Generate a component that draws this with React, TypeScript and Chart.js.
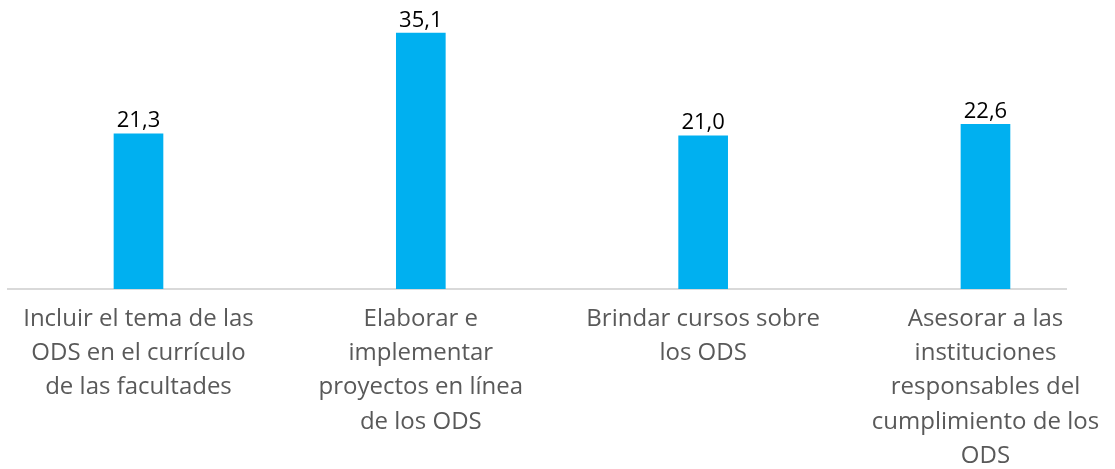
import React, { useEffect, useRef } from "react";
import { Chart, registerables } from "chart.js";

Chart.register(...registerables);

const categories: string[][] = [
  ["Incluir el tema de las", "ODS en el currículo", "de las facultades"],
  ["Elaborar e", "implementar", "proyectos en línea", "de los ODS"],
  ["Brindar cursos sobre", "los ODS"],
  ["Asesorar a las", "instituciones", "responsables del", "cumplimiento de los", "ODS"],
];
const values: number[] = [21.3, 35.1, 21.0, 22.6];

const FONT = "'Open Sans', Lato, sans-serif";

const valueLabels = {
  id: "valueLabels",
  afterDatasetsDraw(chart: any) {
    const ctx = chart.ctx;
    const meta = chart.getDatasetMeta(0);
    ctx.save();
    ctx.font = `22px ${FONT}`;
    ctx.fillStyle = "#000000";
    ctx.textAlign = "center";
    ctx.textBaseline = "alphabetic";
    meta.data.forEach((bar: any, i: number) => {
      const v = values[i];
      ctx.fillText(v.toFixed(1).replace(".", ","), bar.x, bar.y - 6.5);
    });
    ctx.restore();
  },
};

export default function App() {
  const ref = useRef<HTMLCanvasElement | null>(null);
  useEffect(() => {
    if (!ref.current) return;
    const chart = new Chart(ref.current, {
      type: "bar",
      data: {
        datasets: [
          {
            data: values.map((v, i) => ({ x: i, y: v })),
            backgroundColor: "#00B0F0",
            borderWidth: 0,
            barThickness: 49,
          },
        ],
      },
      options: {
        animation: false,
        responsive: true,
        maintainAspectRatio: false,
        layout: { padding: { left: 8, right: 49, top: 12, bottom: 0 } },
        plugins: {
          legend: { display: false },
          tooltip: { enabled: false },
        },
        scales: {
          x: {
            type: "linear",
            offset: false,
            min: -0.4622,
            max: 3.2852,
            grid: { display: false, drawTicks: false, tickLength: 0, offset: false },
            border: { display: true, color: "#D9D9D9", width: 2 },
            afterBuildTicks: (axis: any) => {
              axis.ticks = categories.map((_, i) => ({ value: i }));
            },
            afterFit: (axis: any) => {
              axis.height = 180;
              axis.paddingLeft = 0;
              axis.paddingRight = 0;
            },
            ticks: {
              autoSkip: false,
              maxRotation: 0,
              minRotation: 0,
              padding: 13,
              color: "#595959",
              font: { family: FONT, size: 24, lineHeight: "34.2px" as any },
              callback: (_v: any, i: number) => categories[i],
            },
          },
          y: {
            display: false,
            min: 0,
            max: 38,
          },
        },
      },
      plugins: [valueLabels],
    });
    return () => chart.destroy();
  }, []);
  return (
    <div style={{ position: "absolute", left: 0, top: 0, width: "1115px", height: "469px" }}>
      <canvas ref={ref} />
    </div>
  );
}
